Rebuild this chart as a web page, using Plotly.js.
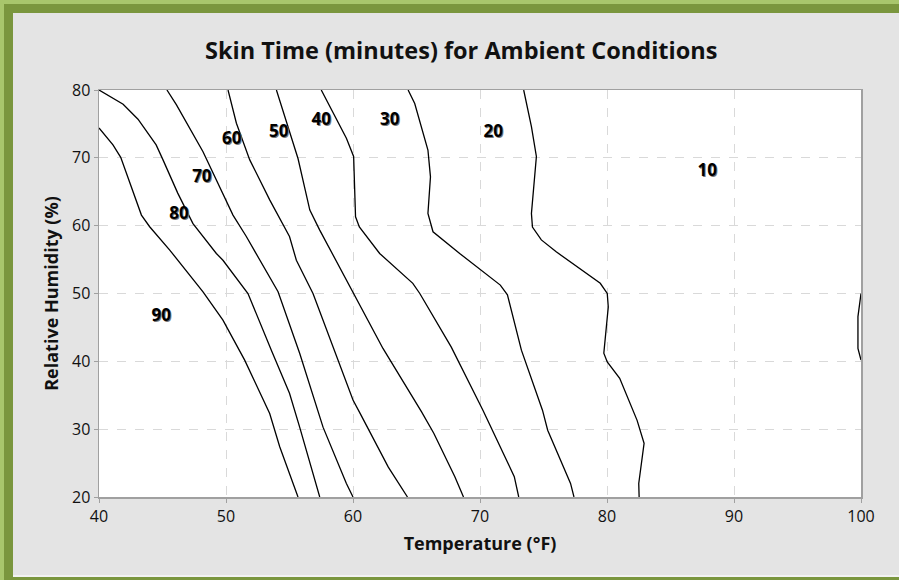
<!DOCTYPE html>
<html>
<head>
<meta charset="utf-8">
<script src="https://cdn.plot.ly/plotly-3.0.1.min.js"></script>
<style>
  html, body { margin: 0; padding: 0; }
  #wrap { position: relative; width: 899px; height: 580px; background: #e4e4e4; overflow: hidden; }
  #chart { position: absolute; left: 0; top: 0; width: 899px; height: 580px; }
  .strip { position: absolute; pointer-events: none; }
</style>
</head>
<body>
<div id="wrap">
  <div id="chart"></div>
  <div class="strip" style="left:0;top:0;width:899px;height:4px;background:#a8c66c;"></div>
  <div class="strip" style="left:0;top:4px;width:899px;height:9px;background:#7a963e;"></div>
  <div class="strip" style="left:0;top:0;width:4px;height:580px;background:#a8c66c;"></div>
  <div class="strip" style="left:4px;top:4px;width:9px;height:576px;background:#7a963e;"></div>
  <div class="strip" style="left:13px;top:575px;width:886px;height:2px;background:#f2f2f2;"></div>
  <div class="strip" style="left:13px;top:577px;width:886px;height:3px;background:#7a963e;"></div>
</div>
<script>
// Contour lines (Temperature °F, Relative Humidity %)
const temp90 = [40.0, 41.1, 41.71, 43.34, 43.99, 45.57, 48.19, 49.76, 51.47, 53.44, 54.23, 55.67];
const hum90  = [74.4, 71.9, 70.07, 61.56, 59.84, 56.4, 50.25, 46.08, 40.18, 32.3, 27.4, 20.0];

const temp80 = [40.0, 41.9, 43.07, 44.5, 45.04, 46.2, 47.4, 49.24, 49.76, 51.73, 53.57, 55.0, 55.8, 57.38];
const hum80  = [80.0, 77.9, 75.7, 71.9, 69.7, 64.8, 60.3, 55.9, 54.9, 50.0, 41.65, 35.3, 30.3, 20.0];

const temp70 = [45.35, 46.1, 48.19, 49.76, 50.55, 51.6, 52.65, 54.1, 55.8, 57.64, 59.48, 60.0];
const hum70  = [80.0, 77.8, 70.9, 64.76, 61.56, 58.4, 54.9, 50.25, 41.2, 30.3, 22.0, 20.0];

const temp60 = [50.16, 50.82, 51.87, 53.44, 55.0, 55.54, 56.85, 58.69, 60.0, 60.57, 62.78, 64.29];
const hum60  = [80.0, 75.1, 69.7, 63.8, 58.4, 54.9, 50.0, 40.66, 34.3, 32.3, 24.4, 20.0];

const temp50 = [53.97, 55.67, 56.24, 56.6, 57.38, 59.48, 60.0, 62.36, 65.4, 66.36, 68.02, 68.7];
const hum50  = [80.0, 69.9, 65.25, 62.3, 59.35, 52.0, 50.0, 41.9, 32.55, 29.4, 23.0, 20.0];

const temp40 = [57.5, 58.7, 59.48, 60.05, 60.2, 60.5, 62.1, 64.71, 65.26, 67.74, 70.23, 72.7, 73.05];
const hum40  = [80.0, 75.6, 72.9, 70.2, 61.3, 59.8, 55.9, 51.5, 50.0, 42.1, 32.8, 23.0, 20.0];

const temp30 = [64.34, 64.86, 65.9, 66.1, 65.9, 66.3, 68.4, 71.6, 72.16, 73.26, 74.92, 75.33, 77.13, 77.4];
const hum30  = [80.0, 78.0, 71.15, 67.2, 61.8, 59.1, 55.9, 51.24, 49.8, 41.65, 32.8, 29.85, 22.0, 20.0];

const temp20 = [73.44, 74.05, 74.44, 74.3, 74.05, 74.13, 74.83, 76.0, 79.47, 80.02, 80.1, 79.75, 80.02, 81.0, 82.37, 82.92, 82.5, 82.53];
const hum20  = [80.0, 74.6, 70.2, 66.7, 61.8, 59.8, 57.9, 56.15, 51.5, 50.0, 48.0, 41.2, 39.9, 37.5, 31.3, 27.9, 22.0, 20.0];

const temp10 = [100.0, 99.76, 99.76, 100.0];
const hum10  = [50.0, 46.6, 41.9, 40.2];

// Contour labels
const labelText = ["90", "80", "70", "60", "50", "40", "30", "20", "10"];
const labelTemp = [44.9, 46.3, 48.1, 50.45, 54.15, 57.5, 62.9, 71.05, 87.9];
const labelHum  = [46.6, 61.6, 67.0, 72.6, 73.7, 75.4, 75.4, 73.7, 67.9];

// Axis ticks
const xTicks = [40, 50, 60, 70, 80, 90, 100];
const yTicks = [20, 30, 40, 50, 60, 70, 80];

const lines = [
  [temp90, hum90], [temp80, hum80], [temp70, hum70], [temp60, hum60], [temp50, hum50],
  [temp40, hum40], [temp30, hum30], [temp20, hum20], [temp10, hum10]
];

const FONT = "'Open Sans', 'Noto Sans', sans-serif";

const traces = lines.map(function (l) {
  return {
    type: 'scatter', mode: 'lines', x: l[0], y: l[1],
    line: { color: '#000000', width: 1.3 },
    hoverinfo: 'skip', showlegend: false, cliponaxis: true
  };
});

traces.push({
  type: 'scatter', mode: 'text', x: labelTemp, y: labelHum, text: labelText,
  textposition: 'middle center',
  textfont: { family: FONT, size: 17, color: '#000000', weight: 'bold', shadow: '1px 1px 0px #777' },
  hoverinfo: 'skip', showlegend: false
});

const axisCommon = {
  showgrid: true, gridcolor: '#d9d9d9', gridwidth: 1, griddash: 'dash',
  showline: true, linecolor: '#a0a0a0', linewidth: 1.5, mirror: true,
  ticks: 'outside', ticklen: 4, tickcolor: '#a0a0a0', tickwidth: 1,
  zeroline: false, tickfont: { family: FONT, size: 16, color: '#111111' }
};

const layout = {
  width: 899, height: 580,
  margin: { l: 99, r: 38, t: 90, b: 83 },
  paper_bgcolor: '#e4e4e4', plot_bgcolor: '#ffffff',
  title: {
    text: '<b>Skin Time (minutes) for Ambient Conditions</b>',
    font: { family: FONT, size: 23.5, color: '#111111' },
    x: 0.513, xanchor: 'center', y: 0.912, yanchor: 'middle'
  },
  xaxis: Object.assign({}, axisCommon, {
    range: [40, 100], tickvals: xTicks, ticktext: xTicks.map(String),
    title: { text: '<b>Temperature (°F)</b>', font: { family: FONT, size: 18, color: '#111111' }, standoff: 11 }
  }),
  yaxis: Object.assign({}, axisCommon, {
    range: [20, 80], tickvals: yTicks, ticktext: yTicks.map(String),
    title: { text: '<b>Relative Humidity (%)</b>', font: { family: FONT, size: 18, color: '#111111' }, standoff: 8 }
  }),
  showlegend: false
};

Plotly.newPlot('chart', traces, layout, { displayModeBar: false, staticPlot: true });
</script>
</body>
</html>
